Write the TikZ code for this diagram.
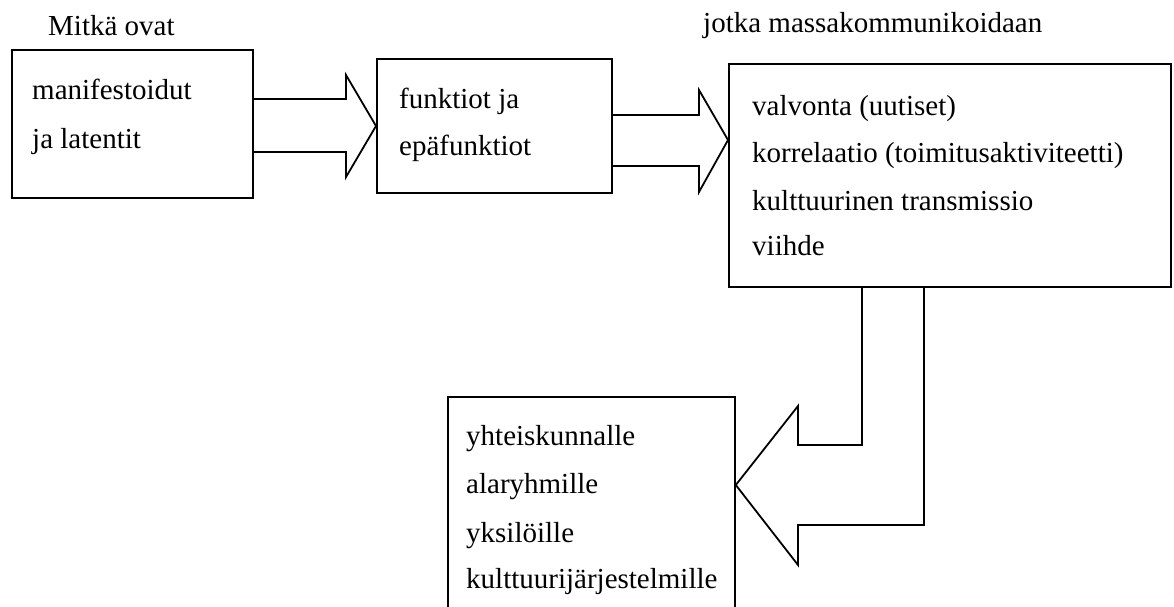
\documentclass[tikz,border=0pt]{standalone}
\usepackage{fontspec}
\setmainfont{Liberation Serif}
\begin{document}
\begin{tikzpicture}[x=1pt,y=-1pt,
  box/.style={draw,line width=1.8pt,anchor=north west,inner sep=0pt},
  txt/.style={anchor=base west,inner sep=0pt,font=\fontsize{29}{35}\selectfont},
  barrow/.style={draw,line width=1.8pt,line join=miter}]
\useasboundingbox (0,0) rectangle (1174,607);
\clip (0,0) rectangle (1174,607);
% boxes
\node[box,minimum width=241pt,minimum height=148pt] (b1) at (11,49) {};
\node[box,minimum width=235pt,minimum height=134pt] (b2) at (376,58) {};
\node[box,minimum width=442pt,minimum height=223pt] (b3) at (728,63) {};
\node[box,minimum width=287pt,minimum height=260pt] (b4) at (447,396) {};
% texts
\node[txt] (t0) at (48,36) {Mitkä ovat};
\node[txt] (t1) at (32,100) {manifestoidut};
\node[txt] (t2) at (32,148) {ja latentit};
\node[txt] (t3) at (399,109) {funktiot ja};
\node[txt] (t4) at (399,155) {epäfunktiot};
\node[txt] (t5) at (703,33) {jotka massakommunikoidaan};
\node[txt] (t6) at (752,115) {valvonta (uutiset)};
\node[txt] (t7) at (752,162) {korrelaatio (toimitusaktiviteetti)};
\node[txt] (t8) at (752,210) {kulttuurinen transmissio};
\node[txt] (t9) at (752,255) {viihde};
\node[txt] (t10) at (466,445) {yhteiskunnalle};
\node[txt] (t11) at (466,493) {alaryhmille};
\node[txt] (t12) at (466,542) {yksilöille};
\node[txt] (t13) at (466,588) {kulttuurijärjestelmille};
% block arrows
\draw[barrow] (b1.east |- 0,99) -- (346,99) -- (346,75) -- (b2.west |- 0,126)
  -- (346,177) -- (346,152) -- (b1.east |- 0,152);
\draw[barrow] (b2.east |- 0,115) -- (699,115) -- (699,90) -- (b3.west |- 0,140)
  -- (699,192) -- (699,166) -- (b2.east |- 0,166);
\draw[barrow] (b3.south -| 862,0) -- (862,445) -- (798,445) -- (798,406)
  -- (b4.east |- 0,485) -- (798,565) -- (798,525) -- (924,525) -- (b3.south -| 924,0);
\end{tikzpicture}
\end{document}
